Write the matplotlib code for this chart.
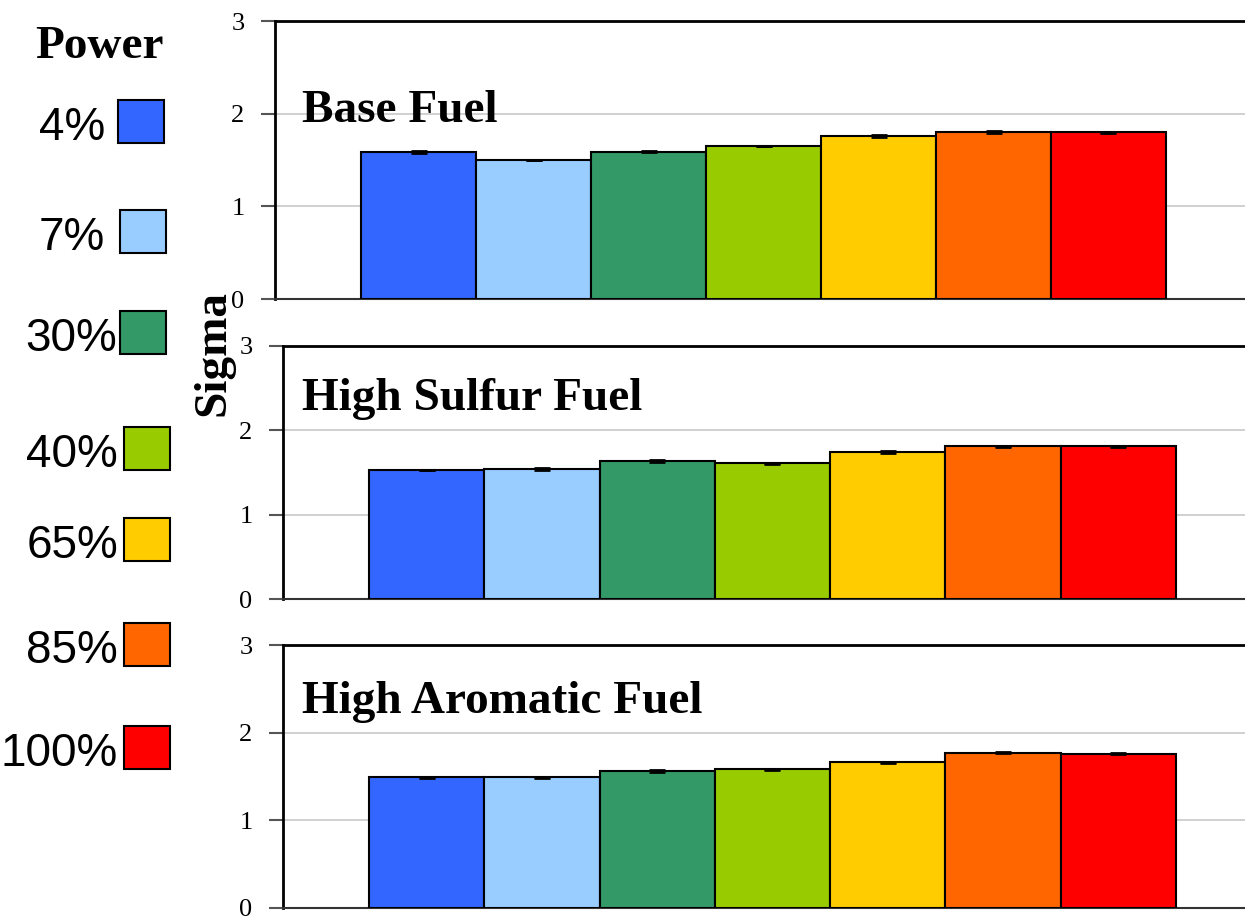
import matplotlib
matplotlib.use("Agg")
import matplotlib.pyplot as plt
from matplotlib.patches import Rectangle

# data
power_levels = ['4%', '7%', '30%', '40%', '65%', '85%', '100%']
colors = ['#3366FF', '#99CCFF', '#339966', '#99CC00', '#FFCC00', '#FF6600', '#FF0000']

fuels = ['Base Fuel', 'High Sulfur Fuel', 'High Aromatic Fuel']
base_fuel = [1.59, 1.50, 1.59, 1.65, 1.76, 1.80, 1.80]
high_sulfur = [1.53, 1.54, 1.64, 1.61, 1.74, 1.81, 1.81]
high_aromatic = [1.49, 1.49, 1.56, 1.58, 1.66, 1.77, 1.76]
base_err = [0.01, 0.005, 0.005, 0.004, 0.01, 0.01, 0.005]
sulfur_err = [0.005, 0.01, 0.01, 0.005, 0.01, 0.005, 0.005]
aromatic_err = [0.005, 0.005, 0.01, 0.01, 0.01, 0.005, 0.005]

serif = 'Liberation Serif'
sans = 'Liberation Sans'
plt.rcParams['font.family'] = serif

W, H = 1245, 917
fig = plt.figure(figsize=(W / 100, H / 100), dpi=100)

# panel boxes in pixels: left, top, bottom ; xlim gaps (units of bar width)
panels = [
    (275, 21, 299, 0.748, 0.687),
    (283, 346, 599, 0.746, 0.60),
    (283, 645, 908, 0.746, 0.60),
]
values = [base_fuel, high_sulfur, high_aromatic]
errors = [base_err, sulfur_err, aromatic_err]
title_base = [122, 410, 713]

x = list(range(len(power_levels)))
for (left, top, bottom, gl, gr), vals, errs, name, tb in zip(panels, values, errors, fuels, title_base):
    ax = fig.add_axes([left / W, 1 - bottom / H, 1 - left / W, (bottom - top) / H])
    ax.bar(x, vals, width=1.0, color=colors, edgecolor='black', linewidth=1.5,
           yerr=errs, error_kw=dict(ecolor='black', elinewidth=1.2, capsize=6, capthick=2),
           zorder=3)
    ax.set_xlim(-0.5 - gl, 6.5 + gr)
    ax.set_ylim(0, 3)
    ax.set_yticks([0, 1, 2, 3])
    ax.set_yticklabels(['0', '1', '2', '3'], fontsize=19, fontfamily=serif)
    ax.set_xticks([])
    ax.yaxis.grid(True, color='#c8c8c8', linewidth=1.2, zorder=0)
    ax.set_axisbelow(True)
    ax.spines['right'].set_visible(False)
    ax.spines['left'].set_linewidth(2)
    ax.spines['top'].set_linewidth(2)
    ax.spines['bottom'].set_linewidth(1.5)
    ax.spines['bottom'].set_color('#333333')
    ax.tick_params(axis='y', direction='out', length=10, width=1.5, color='#555555', pad=12)
    fig.text(302 / W, 1 - tb / H, name, fontsize=34, fontweight='bold',
             va='baseline', ha='left')

fig.text(213 / W, 1 - 353 / H, 'Sigma', rotation=90, fontsize=34, fontweight='bold',
         ha='center', va='center')

# legend
fig.text(99 / W, 1 - 58 / H, 'Power', fontsize=34, fontweight='bold',
         ha='center', va='baseline')
sq_x = [118, 120, 120, 124, 124, 124, 124]
sq_top = [100, 210, 311, 427, 518, 623, 726]
lab_right = [105, 105, 117, 118, 118, 118, 118]
for lab, c, sx, st, lr in zip(power_levels, colors, sq_x, sq_top, lab_right):
    fig.add_artist(Rectangle((sx / W, 1 - (st + 43) / H), 46 / W, 43 / H,
                             transform=fig.transFigure, facecolor=c,
                             edgecolor='black', linewidth=1.5))
    fig.text(lr / W, 1 - (st + 28) / H, lab, fontsize=33, fontfamily=sans,
             ha='right', va='center')

fig.savefig('out.png', dpi=100)
